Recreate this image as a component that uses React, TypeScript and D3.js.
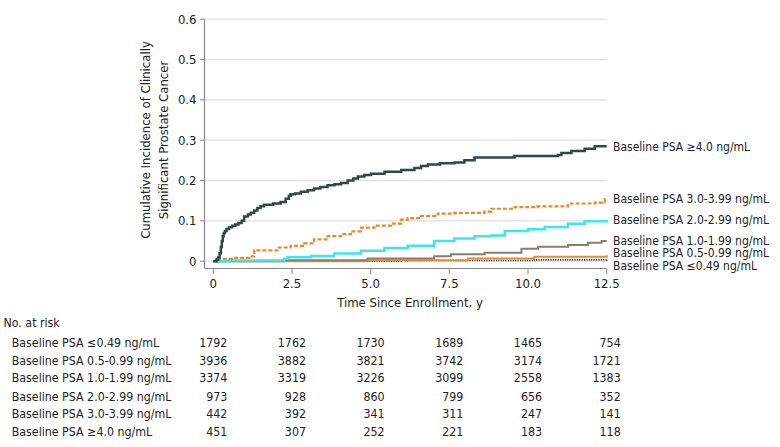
import React from "react";
import * as d3 from "d3";

const yTicks = [0, 0.1, 0.2, 0.3, 0.4, 0.5, 0.6];
const xTicks = [0, 2.5, 5, 7.5, 10, 12.5];

const t40 = [0, 0.1, 0.15, 0.2, 0.24, 0.27, 0.3, 0.33, 0.37, 0.42, 0.5, 0.6, 0.7, 0.8, 0.9, 0.98, 1.1, 1.19, 1.3, 1.4, 1.5, 1.61, 1.9, 2.14, 2.3, 2.4, 2.46, 2.6, 2.78, 3.0, 3.2, 3.4, 3.63, 3.85, 4.06, 4.27, 4.45, 4.59, 4.8, 5.01, 5.44, 5.97, 6.39, 6.6, 6.82, 7.2, 7.66, 7.98, 8.3, 9.57, 10.95, 11.06, 11.38, 11.8, 12.12, 12.5];
const v40 = [0, 0.004, 0.009, 0.02, 0.035, 0.05, 0.062, 0.07, 0.075, 0.08, 0.084, 0.088, 0.091, 0.095, 0.1, 0.111, 0.116, 0.12, 0.126, 0.132, 0.136, 0.14, 0.143, 0.147, 0.155, 0.162, 0.166, 0.168, 0.172, 0.176, 0.18, 0.184, 0.188, 0.191, 0.194, 0.2, 0.205, 0.21, 0.214, 0.217, 0.222, 0.226, 0.231, 0.236, 0.24, 0.243, 0.245, 0.25, 0.257, 0.261, 0.263, 0.268, 0.273, 0.279, 0.285, 0.285];

const t30 = [0, 0.13, 0.66, 1.14, 1.3, 2.04, 2.46, 2.89, 3.2, 3.63, 4.06, 4.37, 4.69, 5.12, 5.65, 5.97, 6.18, 6.6, 7.13, 7.66, 8.62, 8.83, 9.57, 10.3, 11.27, 12.12, 12.44, 12.5];
const v30 = [0, 0.006, 0.008, 0.012, 0.027, 0.034, 0.038, 0.044, 0.054, 0.062, 0.067, 0.074, 0.083, 0.088, 0.093, 0.103, 0.107, 0.112, 0.118, 0.12, 0.123, 0.13, 0.134, 0.136, 0.143, 0.145, 0.154, 0.154];

const t20 = [0, 0.5, 2.25, 2.36, 3.1, 3.84, 4.69, 5.44, 6.18, 7.02, 7.66, 8.3, 8.83, 9.26, 10.0, 10.53, 11.27, 11.8, 12.5];
const v20 = [0, 0.002, 0.006, 0.01, 0.013, 0.019, 0.026, 0.033, 0.038, 0.05, 0.056, 0.062, 0.064, 0.075, 0.079, 0.085, 0.093, 0.099, 0.103];

const t10 = [0, 2.25, 4.9, 7.02, 7.55, 8.62, 9.79, 10.32, 11.27, 11.9, 12.34, 12.5];
const v10 = [0, 0.0025, 0.0066, 0.012, 0.017, 0.021, 0.031, 0.036, 0.04, 0.046, 0.05, 0.05];

const t05 = [0, 4.9, 8.1, 10.2, 12.5];
const v05 = [0, 0.0025, 0.0066, 0.011, 0.015];

const t049 = [0, 5.97, 10.2, 12.5];
const v049 = [0, 0.0016, 0.0033, 0.004];

const seriesLabels = [
  "Baseline PSA ≤0.49 ng/mL",
  "Baseline PSA 0.5-0.99 ng/mL",
  "Baseline PSA 1.0-1.99 ng/mL",
  "Baseline PSA 2.0-2.99 ng/mL",
  "Baseline PSA 3.0-3.99 ng/mL",
  "Baseline PSA ≥4.0 ng/mL",
];

const riskLow = [1792, 1762, 1730, 1689, 1465, 754];
const riskMid = [3936, 3882, 3821, 3742, 3174, 1721];
const riskOne = [3374, 3319, 3226, 3099, 2558, 1383];
const riskTwo = [973, 928, 860, 799, 656, 352];
const riskThree = [442, 392, 341, 311, 247, 141];
const riskFour = [451, 307, 252, 221, 183, 118];

const FONT = "'DejaVu Sans Condensed', 'DejaVu Sans', sans-serif";

export default function App() {
  const x = d3.scaleLinear().domain([0, 12.5]).range([213.3, 606.7]);
  const y = d3.scaleLinear().domain([0, 0.6]).range([261.2, 19.2]);
  const line = d3
    .line<[number, number]>()
    .x((d) => x(d[0]))
    .y((d) => y(d[1]))
    .curve(d3.curveStepAfter);

  const series = [
    { t: t049, v: v049, color: "#2b3a4a", width: 1.6, dash: "1.2,1.2", label: seriesLabels[0], ly: 265.5 },
    { t: t05, v: v05, color: "#ea8a2e", width: 2, dash: null, label: seriesLabels[1], ly: 253 },
    { t: t10, v: v10, color: "#858070", width: 2, dash: null, label: seriesLabels[2], ly: 241 },
    { t: t20, v: v20, color: "#3ee6ea", width: 2.5, dash: null, label: seriesLabels[3], ly: 219.5 },
    { t: t30, v: v30, color: "#e8892c", width: 2.2, dash: "4,2", label: seriesLabels[4], ly: 199 },
    { t: t40, v: v40, color: "#2d4a47", width: 2.5, dash: null, label: seriesLabels[5], ly: 147 },
  ];

  const risk = [riskLow, riskMid, riskOne, riskTwo, riskThree, riskFour];
  const riskY = [342.5, 360.5, 378, 396.5, 414, 431.5];

  return (
    <svg width={780} height={447} style={{ position: "absolute", left: 0, top: 0, background: "#fff" }} fontFamily={FONT}>
      {yTicks.map((t) => (
        <line key={"g" + t} x1={205} x2={607} y1={y(t)} y2={y(t)} stroke="#dedede" strokeWidth={1.2} />
      ))}
      <line x1={204.5} x2={204.5} y1={y(0.6)} y2={268.5} stroke="#888" strokeWidth={1.2} />
      {yTicks.map((t) => (
        <g key={"y" + t}>
          <line x1={200} x2={204.5} y1={y(t)} y2={y(t)} stroke="#888" strokeWidth={1} />
          <text x={196.5} y={y(t)} dy="0.35em" textAnchor="end" fontSize={13} fill="#222">
            {t === 0 ? "0" : d3.format(".1f")(t)}
          </text>
        </g>
      ))}
      <line x1={204.5} x2={x(12.5)} y1={268.5} y2={268.5} stroke="#888" strokeWidth={1.2} />
      {xTicks.map((t) => (
        <g key={"x" + t}>
          <line x1={x(t)} x2={x(t)} y1={268.5} y2={274} stroke="#888" strokeWidth={1} />
          <text x={x(t)} y={283.5} dy="0.35em" textAnchor="middle" fontSize={13} fill="#222">
            {t === 0 ? "0" : d3.format(".1f")(t)}
          </text>
        </g>
      ))}
      <text x={410} y={302} dy="0.35em" textAnchor="middle" fontSize={13} fill="#222">
        Time Since Enrollment, y
      </text>
      <g transform="translate(145.5,140) rotate(-90)">
        <text x={0} y={0} dy="0.35em" textAnchor="middle" fontSize={13} fill="#222">
          Cumulative Incidence of Clinically
        </text>
        <text x={0} y={18} dy="0.35em" textAnchor="middle" fontSize={13} fill="#222">
          Significant Prostate Cancer
        </text>
      </g>
      {series.map((s, i) => (
        <path
          key={"s" + i}
          d={line(s.t.map((tt, j) => [tt, s.v[j]] as [number, number])) || ""}
          fill="none"
          stroke={s.color}
          strokeWidth={s.width}
          strokeDasharray={s.dash || undefined}
        />
      ))}
      {series.map((s, i) => (
        <text key={"l" + i} x={613} y={s.ly} dy="0.35em" fontSize={12} fill="#222">
          {s.label}
        </text>
      ))}
      <text x={3.5} y={323} dy="0.35em" fontSize={12.3} fill="#222">No. at risk</text>
      {risk.map((row, i) => (
        <g key={"r" + i}>
          <text x={11.7} y={riskY[i]} dy="0.35em" fontSize={12.3} fill="#222">
            {seriesLabels[i]}
          </text>
          {row.map((n, j) => (
            <text key={j} x={x(xTicks[j]) + 14} y={riskY[i]} dy="0.35em" textAnchor="end" fontSize={12.3} fill="#222">
              {n}
            </text>
          ))}
        </g>
      ))}
    </svg>
  );
}
